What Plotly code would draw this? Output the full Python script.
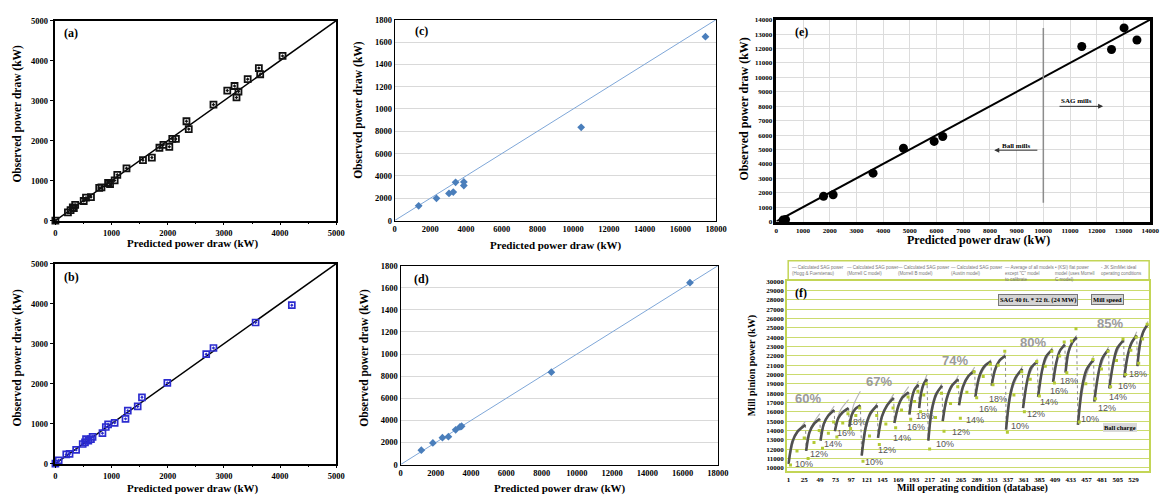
import plotly.graph_objects as go

W, H = 1174, 498
def px(x): return x / W
def py(y): return 1 - y / H

# ---------------- data ----------------
a_pred = [0,223,270,310,328,352,504,545,633,780,820,938,973,1055,1102,1266,1559,1717,1852,1923,
          2028,2081,2145,2333,2374,2814,3060,3189,3224,3259,3423,3622,3646,4044]
a_obs = [0,204,261,327,310,392,490,572,588,817,833,940,915,1005,1144,1307,1511,1577,1822,1895,
         1846,2042,2042,2484,2288,2900,3252,3366,3080,3227,3538,3815,3660,4118]

b_pred = [0,59,193,252,369,486,527,545,586,633,662,838,897,938,1055,1248,1289,1465,1541,1993,2685,2814,3564,4209]
b_obs = [0,82,229,245,343,490,531,613,572,613,670,760,915,980,1021,1119,1324,1430,1659,2018,2737,2892,3529,3962]

c_pred = [1348,2345,3046,3286,3415,3877,3877,10449,17409]
c_obs = [1320,1994,2434,2551,3431,3138,3460,8358,16481]

d_pred = [1179,1834,2376,2713,3125,3368,3462,8552,16411]
d_obs = [1305,1957,2432,2521,3144,3411,3470,8363,16459]

e_pred = [250,346,1768,2127,3623,4761,5911,6233,11440,12553,13023,13505]
e_obs = [100,136,1747,1861,3358,5083,5559,5900,12140,11936,13433,12594]

ab_ticks = [0,1000,2000,3000,4000,5000]
cd_xticks = [0,2000,4000,6000,8000,10000,12000,14000,16000,18000]
cd_yticks = [0,2000,4000,6000,8000,10000,12000,14000,16000,18000]
cd_yticktext = ["0","2000","4000","6000","8000","1000","1200","1400","1600","1800"]
e_ticks = list(range(0, 14001, 1000))
f_xticks = [1,25,49,73,97,121,145,169,193,217,241,265,289,313,337,361,385,409,433,457,481,505,529]
f_yticks = list(range(10000, 30001, 1000))

F_MAIN_X = [
 [1,7,15,27],[28,33,40,49],[50,55,62,71],[72,77,84,93],[94,98,103,111],
 [113,119,126,137],[138,144,152,162],[163,169,175,185],[186,190,194,200],[201,204,208,213],
 [215,220,227,236],[237,243,251,261],[262,268,276,286],[287,293,301,311],[312,317,324,333],
 [334,340,348,359],[360,366,372,382],[383,389,395,405],[406,411,416,424],[425,429,435,442],
 [444,450,457,468],[469,475,481,491],[492,498,504,514],[515,520,526,534],[535,539,544,551]]
F_MAIN_Y = [
 [10400,12800,13900,14600],[11800,13800,14700,15250],[12900,14700,15600,16200],[13900,15300,15950,16400],[14400,15700,16300,16700],
 [11300,14300,15800,16700],[13200,15500,16700,17500],[14800,16600,17500,18100],[15700,17500,18400,18900],[16400,18000,19000,19500],
 [12900,16100,17900,18800],[15000,17400,18800,19500],[16700,18700,19800,20400],[17600,19800,20900,21400],[18800,20500,21500,22000],
 [14100,17700,19600,20600],[16400,19200,20700,21400],[17600,20400,21900,22700],[19200,21300,22500,23200],[20200,22300,23400,24000],
 [14600,18500,20500,21600],[17100,20000,21700,22700],[18500,21200,22800,23700],[19700,22000,23400,24200],[20900,23300,24600,25400]]

F_GRAY_X = [
 [1,11,27],[28,37,49],[50,59,71],[72,80,93],[94,101,111],
 [113,123,137],[138,148,162],[163,172,185],[186,192,200],[201,206,213],
 [215,224,236],[237,247,261],[262,272,286],[287,297,311],[312,321,333],
 [334,344,359],[360,369,382],[383,392,405],[406,413,424],[425,432,442],
 [444,454,468],[469,478,491],[492,501,514],[515,523,534],[535,542,551]]
F_GRAY_Y = [
 [10500,13300,15000],[12000,14500,15800],[13100,15300,16600],[14100,16100,17300],[14600,16800,18200],
 [11500,15000,17000],[13400,16200,17900],[15000,17300,18700],[15900,18000,19300],[16600,18600,20000],
 [13100,17000,19100],[15200,18000,19900],[16900,19200,20800],[17800,20200,21600],[19000,21000,22300],
 [14300,18500,20900],[16600,19800,21700],[17800,21000,22900],[19400,21900,23400],[20400,22800,24200],
 [14800,19200,22000],[17300,20600,23000],[18700,21800,24000],[19900,22700,24600],[21100,23900,25700]]

F_GREEN_X = [4,14,25,31,40,48,53,62,70,75,84,92,96,104,110,
             115,125,136,140,150,161,165,174,184,188,194,199,203,208,212,
             217,226,235,239,249,260,264,274,285,289,299,310,314,322,332,
             336,346,358,362,371,381,385,394,404,408,416,423,427,434,441,
             446,456,467,471,480,490,494,503,513,517,525,533,537,543,550]
F_GREEN_Y = [10300,11800,13200,11000,12700,14000,12100,13700,14900,13300,14800,15800,14200,15600,16400,
             10700,13400,15600,12500,14700,16400,14300,16200,17600,15200,17100,18200,16000,17800,19000,
             12000,15400,18000,13900,16900,18700,15300,18100,20300,17500,19800,21100,18900,21000,22500,
             13800,17800,20300,16000,19500,21400,17700,20900,22500,19100,22000,23500,20200,23600,24900,
             14900,19000,21600,17400,20600,22500,18700,21500,23800,20000,22600,24000,21200,23800,25400]

speed_labels = ["60%", "67%", "74%", "80%", "85%"]
speed_x = [31, 140, 256, 375, 493]
speed_y = [17400, 19200, 21500, 23400, 25500]

charge_labels = ["10%", "12%", "14%", "16%", "18%"] * 5
charge_x = [24,48,69,89,106, 132,152,175,196,210, 240,265,286,307,322, 355,380,400,415,430, 463,488,506,519,536]
charge_y = [10420,11470,12500,13740,14860, 10600,11900,13200,14340,15560, 12590,13850,15140,16260,17400,
            14500,15730,17000,18180,19340, 15240,16430,17590,18800,20100]

legend_texts = ["— Calculated SAG power<br>(Hogg & Fuerstenau)",
                "— Calculated SAG power<br>(Morrell C model)",
                "— Calculated SAG power<br>(Morrell B model)",
                "— Calculated SAG power<br>(Austin model)",
                "— Average of all models<br>except \"C\" model<br>to calibrate",
                "• (KSI) flat power<br>model (uses Morrell<br>C model)",
                "- JK SimMet ideal<br>operating conditions"]
legend_px = [797, 852, 904, 958, 1012, 1063, 1109]

# ---------------- figure ----------------
fig = go.Figure()
SERIF = "Liberation Serif"
SANS = "Liberation Sans"

# (a)
fig.add_trace(go.Scatter(x=[0, 5000], y=[0, 5000], mode="lines", line=dict(color="black", width=1.5),
                         xaxis="x", yaxis="y", cliponaxis=False))
fig.add_trace(go.Scatter(x=a_pred, y=a_obs, mode="markers", xaxis="x", yaxis="y", cliponaxis=False,
                         marker=dict(symbol="square-open-dot", size=6, color="#111", line=dict(width=1.8, color="#111"))))
# (b)
fig.add_trace(go.Scatter(x=[0, 5000], y=[0, 5000], mode="lines", line=dict(color="black", width=1.5),
                         xaxis="x2", yaxis="y2", cliponaxis=False))
fig.add_trace(go.Scatter(x=b_pred, y=b_obs, mode="markers", xaxis="x2", yaxis="y2", cliponaxis=False,
                         marker=dict(symbol="square-open-dot", size=6, color="#2c2ccf", line=dict(width=1.7, color="#2c2ccf"))))
# (c)
fig.add_trace(go.Scatter(x=[0, 18000], y=[0, 18000], mode="lines", line=dict(color="#7fa7d8", width=1),
                         xaxis="x3", yaxis="y3"))
fig.add_trace(go.Scatter(x=c_pred, y=c_obs, mode="markers", xaxis="x3", yaxis="y3",
                         marker=dict(symbol="diamond", size=6, color="#4a7ebb")))
# (d)
fig.add_trace(go.Scatter(x=[0, 18000], y=[0, 18000], mode="lines", line=dict(color="#7fa7d8", width=1),
                         xaxis="x4", yaxis="y4"))
fig.add_trace(go.Scatter(x=d_pred, y=d_obs, mode="markers", xaxis="x4", yaxis="y4",
                         marker=dict(symbol="diamond", size=6, color="#4a7ebb")))
# (e)
fig.add_trace(go.Scatter(x=[0, 14000], y=[0, 14000], mode="lines", line=dict(color="black", width=2),
                         xaxis="x5", yaxis="y5"))
fig.add_trace(go.Scatter(x=e_pred, y=e_obs, mode="markers", xaxis="x5", yaxis="y5", cliponaxis=False,
                         marker=dict(symbol="circle", size=9, color="black")))

# (f)
gx, gy = [], []
for xs, ys in zip(F_GRAY_X, F_GRAY_Y):
    gx += xs + [None]; gy += ys + [None]
fig.add_trace(go.Scatter(x=gx, y=gy, mode="lines", line=dict(color="#b8b8b8", width=1.2, shape="spline", smoothing=0.8),
                         xaxis="x6", yaxis="y6"))
dx, dy = [], []
for i in range(len(F_MAIN_X) - 1):
    dx += [F_MAIN_X[i][-1], F_MAIN_X[i + 1][0], None]
    dy += [F_MAIN_Y[i][-1], F_MAIN_Y[i + 1][0], None]
fig.add_trace(go.Scatter(x=dx, y=dy, mode="lines", line=dict(color="#8a8a8a", width=1, dash="dot"),
                         xaxis="x6", yaxis="y6"))
mx, my = [], []
for xs, ys in zip(F_MAIN_X, F_MAIN_Y):
    mx += xs + [None]; my += ys + [None]
fig.add_trace(go.Scatter(x=mx, y=my, mode="lines", line=dict(color="#505050", width=2.6, shape="spline", smoothing=0.8),
                         xaxis="x6", yaxis="y6"))
fig.add_trace(go.Scatter(x=F_GREEN_X, y=F_GREEN_Y, mode="markers", xaxis="x6", yaxis="y6",
                         marker=dict(symbol="square", size=3, color="#b3c934")))

# ---------------- axes ----------------
tf9 = dict(family=SERIF, size=8.5, color="black", weight="bold")
tf7 = dict(family=SERIF, size=7, color="black", weight="bold")

def ab_axes(xd, yd, xa, ya):
    xax = dict(domain=xd, range=[0, 5000], tickvals=ab_ticks, tickformat="d", ticks="outside", ticklen=3,
               tickcolor="black", minor=dict(dtick=500, ticks="outside", ticklen=2, tickcolor="black"),
               showline=True, linecolor="black", linewidth=1.5, mirror=True, showgrid=False, zeroline=False,
               tickfont=tf9, anchor=ya)
    yax = dict(domain=yd, range=[0, 5000], tickvals=ab_ticks, tickformat="d", ticks="outside", ticklen=4,
               tickcolor="black", showline=True, linecolor="black", linewidth=1.5, mirror=True, showgrid=False,
               zeroline=False, tickfont=tf9, anchor=xa)
    return xax, yax

def cd_axes(xd, yd, xa, ya):
    xax = dict(domain=xd, range=[0, 18000], tickvals=cd_xticks, tickformat="d", ticks="", showline=True,
               linecolor="black", linewidth=1, mirror=True, showgrid=False, zeroline=False, tickfont=tf9, anchor=ya)
    yax = dict(domain=yd, range=[0, 18000], tickvals=cd_yticks, ticktext=cd_yticktext, ticks="",
               showline=True, linecolor="black", linewidth=1, mirror=True, showgrid=True, gridcolor="#d9d9d9",
               zeroline=False, tickfont=tf9, anchor=xa)
    return xax, yax

x1, y1 = ab_axes([px(54), px(338)], [py(220), py(16)], "x", "y")
x2, y2 = ab_axes([px(54), px(338)], [py(468), py(264)], "x2", "y2")
x3, y3 = cd_axes([px(397), px(722)], [py(220), py(15)], "x3", "y3")
x4, y4 = cd_axes([px(403), px(724)], [py(469), py(266)], "x4", "y4")

x5 = dict(domain=[px(783), px(1161)], range=[0, 14000], tickvals=e_ticks, tickformat="d", ticks="", showline=True,
          linecolor="black", linewidth=2.5, mirror=True, showgrid=True, gridcolor="#dcdcdc", zeroline=False,
          tickfont=tf7, anchor="y5")
y5 = dict(domain=[py(221), py(15)], range=[0, 14000], tickvals=e_ticks, tickformat="d", ticks="", showline=True,
          linecolor="black", linewidth=2.5, mirror=True, showgrid=True, gridcolor="#dcdcdc", zeroline=False,
          tickfont=tf7, anchor="x5")

x6 = dict(domain=[px(794), px(1160)], range=[-1, 553], tickvals=f_xticks, tickformat="d", ticks="", showline=True,
          linecolor="#c3d556", linewidth=2, mirror=True, showgrid=False, zeroline=False,
          tickfont=dict(family=SERIF, size=7, color="black", weight="bold"), anchor="y6")
y6 = dict(domain=[py(476), py(282)], range=[9600, 30000], tickvals=f_yticks, tickformat="d", ticks="",
          showline=True, linecolor="#c3d556", linewidth=2, mirror=True, showgrid=True, gridcolor="#cbdb6e",
          gridwidth=1.2, zeroline=False, tickfont=dict(family=SERIF, size=7, color="black", weight="bold"),
          anchor="x6")

# ---------------- annotations ----------------
ann = []
def ptext(text, x, y, size, family=SERIF, angle=0, color="black", **kw):
    ann.append(dict(text=text, x=px(x), y=py(y), xref="paper", yref="paper", showarrow=False,
                    xanchor="center", yanchor="middle",
                    textangle=angle, font=dict(family=family, size=size, color=color), **kw))

# axis titles
for (x, y) in [(193, 243), (193, 493), (560, 245), (564, 493)]:
    ptext("<b>Predicted power draw (kW)</b>", x, y, 11)
ptext("<b>Predicted power draw (kW)</b>", 987, 240, 12)
for (x, y) in [(16, 111), (16, 360), (361, 107), (367, 360)]:
    ptext("<b>Observed power draw (kW)</b>", x, y, 11.5, angle=-90)
ptext("<b>Observed power draw (kW)</b>", 750, 106, 12, angle=-90)
ptext("<b>Mill operating condition (database)</b>", 981, 493, 10)
ptext("<b>Mill pinion power (kW)</b>", 758, 368, 10, angle=-90)

# panel labels
for t, (x, y) in zip(["(a)", "(b)", "(c)", "(d)", "(e)", "(f)"],
                     [(70, 29), (70, 278), (424, 27), (424, 280), (808, 28), (808, 294)]):
    ptext("<b>" + t + "</b>", x, y, 12)

# (e) annotations
ann.append(dict(text="<b>SAG mills</b>", x=11254, y=8395, xref="x5", yref="y5", showarrow=False,
                font=dict(family=SERIF, size=7, color="black")))
ann.append(dict(text="", x=12240, y=7990, ax=10550, ay=7990, xref="x5", yref="y5", axref="x5", ayref="y5",
                showarrow=True, arrowhead=2, arrowsize=1, arrowwidth=1, arrowcolor="#333"))
ann.append(dict(text="<b>Ball mills</b>", x=8966, y=5219, xref="x5", yref="y5", showarrow=False,
                font=dict(family=SERIF, size=7, color="black")))
ann.append(dict(text="", x=8162, y=4950, ax=9832, ay=4950, xref="x5", yref="y5", axref="x5", ayref="y5",
                showarrow=True, arrowhead=2, arrowsize=1, arrowwidth=1, arrowcolor="#333"))

# (f) annotations
for t, x, y in zip(speed_labels, speed_x, speed_y):
    ann.append(dict(text="<b>" + t + "</b>", x=x, y=y, xref="x6", yref="y6", showarrow=False,
                    font=dict(family=SANS, size=13, color="#9b9b9b")))
for t, x, y in zip(charge_labels, charge_x, charge_y):
    ann.append(dict(text=t, x=x, y=y, xref="x6", yref="y6", showarrow=False,
                    font=dict(family=SANS, size=9, color="#555555")))
ptext("<b>SAG 40 ft. * 22 ft. (24 MW)</b>", 1048, 301, 6.5, bgcolor="#d4d4d4", bordercolor="#777",
      borderwidth=1, borderpad=1)
ptext("<b>Mill speed</b>", 1118, 301, 6.5, bgcolor="#d4d4d4", bordercolor="#777", borderwidth=1, borderpad=1)
ptext("<b>Ball charge</b>", 1131, 431, 6.5, bgcolor="#d9d9d9", bordercolor="#999", borderwidth=0, borderpad=1)
for t, x in zip(legend_texts, legend_px):
    ann.append(dict(text=t, x=px(x), y=py(263), xref="paper", yref="paper", showarrow=False,
                    xanchor="left", yanchor="top", align="left",
                    font=dict(family=SANS, size=4.5, color="#777777")))

shapes = [
    dict(type="line", xref="x5", yref="y5", x0=10000, x1=10000, y0=1300, y1=13430,
         line=dict(color="#8c8c8c", width=1.5)),
    dict(type="rect", xref="paper", yref="paper", x0=px(795), x1=px(1160), y0=py(281), y1=py(261),
         line=dict(color="#c3d556", width=1.5)),
]

fig.update_layout(
    width=W, height=H, margin=dict(l=0, r=0, t=0, b=0), showlegend=False,
    paper_bgcolor="white", plot_bgcolor="white", hovermode=False,
    xaxis=x1, yaxis=y1, xaxis2=x2, yaxis2=y2, xaxis3=x3, yaxis3=y3, xaxis4=x4, yaxis4=y4,
    xaxis5=x5, yaxis5=y5, xaxis6=x6, yaxis6=y6,
    annotations=ann, shapes=shapes,
)

fig.write_html("out.html")
